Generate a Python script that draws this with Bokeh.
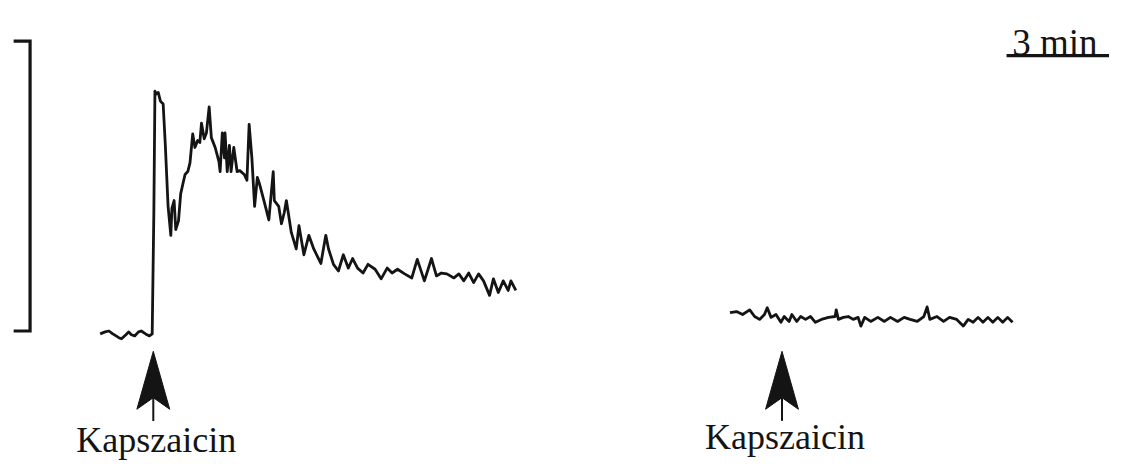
from bokeh.plotting import figure
from bokeh.models import Range1d
from bokeh.core.properties import value
from bokeh.embed import file_html
from bokeh.resources import INLINE

# ---- data (time in s on a common axis, signal in arbitrary units, baseline = 0) ----
trace1_t = [182, 191, 198, 205, 211, 216, 221, 229, 234, 239, 245, 252, 257, 265, 272, 277,
            280, 282, 284, 288, 292, 297, 301, 306, 311, 313, 317, 320, 325, 329, 333, 337,
            342, 346, 351, 355, 360, 364, 367, 372, 376, 381, 385, 392, 399, 401, 405, 409,
            410, 414, 418, 421, 426, 432, 437, 445, 450, 454, 459, 464, 469, 473, 481, 490,
            498, 500, 508, 513, 518, 522, 531, 540, 545, 554, 563, 572, 585, 594, 599, 608,
            617, 626, 635, 643, 652, 662, 671, 684, 695, 706, 715, 725, 738, 751, 761, 774,
            787, 796, 805, 815, 828, 837, 846, 855, 864, 873, 882, 893, 900, 909, 918, 927,
            932, 941]
trace1_v = [0, 0.7, 1.0, 0, -0.7, -1.3, -1.7, -0.3, 0.7, -0.3, -0.7, 0.7, 1.0, 0, -0.7, 0,
            41.7, 83.7, 82.7, 83.3, 80.3, 79.3, 65, 44, 34, 43.3, 46, 36, 39, 48.3, 51.7, 55,
            56, 59, 69, 64.3, 66.7, 66, 72.7, 67.3, 69.3, 78.3, 67.7, 64.3, 59.3, 56, 69.3, 60.7,
            69.3, 56, 65, 56, 64.3, 56, 56.3, 55, 53, 72.3, 60.7, 44, 54, 51.7, 46, 39.3,
            56, 46, 44, 38, 41.7, 46, 35, 29.3, 37.3, 27.3, 34, 29.3, 24.3, 34, 29.3, 24,
            21.7, 27.3, 22.7, 26, 22.7, 21, 24, 22.3, 19, 22.7, 21, 22.3, 20.7, 19.3, 25.7, 18.3,
            26, 20, 21, 20.7, 19.3, 20.7, 18.3, 21, 17.7, 20.7, 18.3, 13.3, 19, 14.3, 18.3, 15,
            18.3, 15]

trace2_t = [1332, 1344, 1355, 1368, 1377, 1386, 1395, 1400, 1407, 1416, 1425, 1431, 1440, 1445,
            1454, 1461, 1470, 1479, 1488, 1499, 1512, 1524, 1526, 1530, 1539, 1548, 1557, 1566,
            1571, 1578, 1589, 1602, 1614, 1625, 1638, 1650, 1661, 1674, 1686, 1692, 1697, 1710,
            1722, 1733, 1746, 1758, 1767, 1776, 1785, 1794, 1803, 1812, 1821, 1830, 1839, 1848]
trace2_v = [7.3, 7.7, 6.7, 8.3, 6, 5, 6.7, 9, 5.7, 6.7, 4, 6, 4.3, 6.7,
            4.3, 6, 5, 6, 4, 5, 5.7, 6, 8.3, 5, 5.7, 6, 5, 5.7,
            2.7, 5.7, 4.3, 5.7, 4.3, 5.7, 4.3, 5.7, 5, 4.3, 6, 9.3, 5, 6,
            4.3, 5.7, 5, 2.7, 5, 4, 5.7, 4, 5.7, 4, 5.7, 4, 5.7, 4]

stim_times = [279, 1427]            # capsaicin application
stim_labels = ["Kapszaicin", "Kapszaicin"]
amp_bar_value = 100                 # vertical calibration bar (a.u.)
time_bar_value = 180                # 3 min
time_bar_label = "3 min"

# ---- layout constants ----
W, H = 1109, 460
X0, X1 = 0.0, 2025.0
Y0, Y1 = -43.667, 115.0
INK = "#141414"
FONT = value("Liberation Serif")

p = figure(width=W, height=H, output_backend="svg", toolbar_location=None,
           x_range=Range1d(X0, X1), y_range=Range1d(Y0, Y1),
           min_border=0, min_border_left=0, min_border_right=0,
           min_border_top=0, min_border_bottom=0)
p.axis.visible = False
p.grid.visible = False
p.outline_line_color = None
p.background_fill_color = "white"
p.border_fill_color = "white"

# traces
p.line(trace1_t, trace1_v, line_color=INK, line_width=2.8, line_join="round")
p.line(trace2_t, trace2_v, line_color=INK, line_width=2.8, line_join="round")

# vertical calibration bar
bar_x = 54
bar_lo = 1
bar_hi = bar_lo + amp_bar_value
tick = 30
p.line([bar_x - tick, bar_x, bar_x, bar_x - tick], [bar_hi, bar_hi, bar_lo, bar_lo],
       line_color=INK, line_width=3.2, line_join="miter")

# time bar
tb_end = X1
tb_start = tb_end - time_bar_value - 8
tb_v = 96
p.line([tb_start, tb_end], [tb_v, tb_v], line_color=INK, line_width=3.2)
p.text(x=[tb_start + 0.47 * (tb_end - tb_start)], y=[tb_v], text=[time_bar_label],
       text_font=FONT, text_font_size="37px", text_color=INK,
       text_align="center", text_baseline="alphabetic", y_offset=-13)

# arrows
tip_v = -6
hl, notch, shaft, hw = 20, 16, 24, 30
xs, ys = [], []
for s in stim_times:
    xs.append([s, s + hw, s, s - hw])
    ys.append([tip_v, tip_v - hl, tip_v - notch, tip_v - hl])
p.patches(xs, ys, fill_color=INK, line_color=INK, line_width=1)
p.segment(x0=stim_times, y0=[tip_v - notch] * 2, x1=stim_times, y1=[tip_v - shaft] * 2,
          line_color=INK, line_width=2)

# labels
label_v = [-36.6, -35.4]
p.text(x=stim_times, y=label_v, text=stim_labels, text_font=FONT,
       text_font_size="36px", text_color=INK, text_align="center",
       text_baseline="alphabetic", x_offset=3)

open("out.html", "w").write(file_html(p, INLINE))
